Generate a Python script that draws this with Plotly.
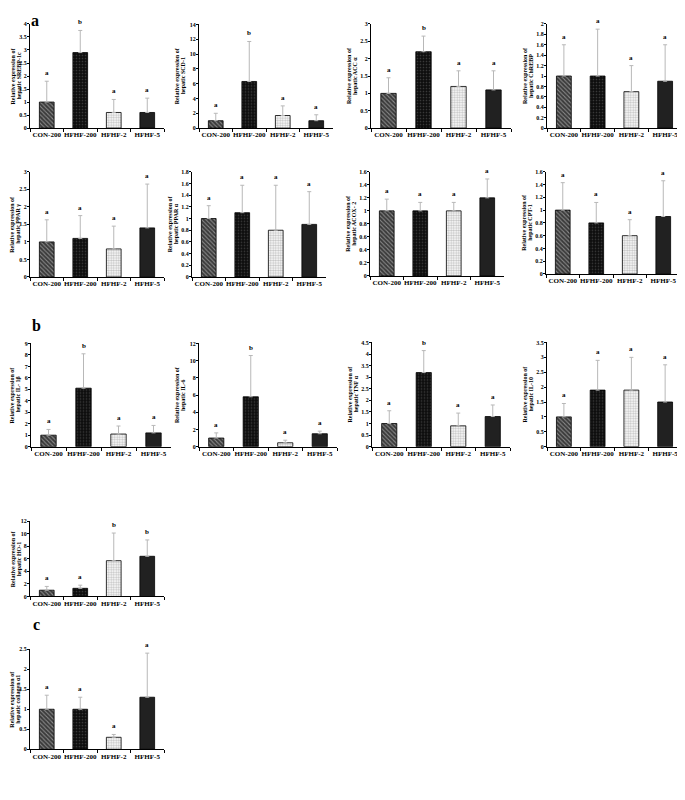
import plotly.graph_objects as go

groups = ["CON-200", "HFHF-200", "HFHF-2", "HFHF-5"]

srebp1c_mean = [1.0, 2.9, 0.6, 0.6]
srebp1c_err = [0.8, 0.85, 0.5, 0.55]
srebp1c_sig = ["a", "b", "a", "a"]

scd1_mean = [1.0, 6.3, 1.7, 1.0]
scd1_err = [1.0, 5.4, 1.3, 0.8]
scd1_sig = ["a", "b", "a", "a"]

acca_mean = [1.0, 2.2, 1.2, 1.1]
acca_err = [0.45, 0.45, 0.45, 0.55]
acca_sig = ["a", "b", "a", "a"]

chrebp_mean = [1.0, 1.0, 0.7, 0.9]
chrebp_err = [0.6, 0.9, 0.5, 0.7]
chrebp_sig = ["a", "a", "a", "a"]

pparg_mean = [1.0, 1.1, 0.8, 1.4]
pparg_err = [0.63, 0.65, 0.65, 1.25]
pparg_sig = ["a", "a", "a", "a"]

ppara_mean = [1.0, 1.1, 0.8, 0.9]
ppara_err = [0.22, 0.47, 0.77, 0.56]
ppara_sig = ["a", "a", "a", "a"]

acox2_mean = [1.0, 1.0, 1.0, 1.2]
acox2_err = [0.18, 0.13, 0.13, 0.29]
acox2_sig = ["a", "a", "a", "a"]

cpt1_mean = [1.0, 0.8, 0.6, 0.9]
cpt1_err = [0.43, 0.32, 0.25, 0.56]
cpt1_sig = ["a", "a", "a", "a"]

il1b_mean = [1.0, 5.1, 1.1, 1.2]
il1b_err = [0.5, 3.0, 0.7, 0.65]
il1b_sig = ["a", "b", "a", "a"]

il6_mean = [1.0, 5.8, 0.45, 1.5]
il6_err = [0.6, 4.8, 0.3, 0.3]
il6_sig = ["a", "b", "a", "a"]

tnfa_mean = [1.0, 3.2, 0.9, 1.3]
tnfa_err = [0.55, 0.95, 0.55, 0.5]
tnfa_sig = ["a", "b", "a", "a"]

il10_mean = [1.0, 1.9, 1.9, 1.5]
il10_err = [0.45, 1.0, 1.1, 1.25]
il10_sig = ["a", "a", "a", "a"]

ho1_mean = [1.0, 1.3, 5.7, 6.4]
ho1_err = [0.6, 0.5, 4.4, 2.6]
ho1_sig = ["a", "a", "b", "b"]

col1_mean = [1.0, 1.0, 0.3, 1.3]
col1_err = [0.35, 0.3, 0.07, 1.1]
col1_sig = ["a", "a", "a", "a"]

panels = [
    ("hepatic SREBP-1c", srebp1c_mean, srebp1c_err, srebp1c_sig, 4, 0.5),
    ("hepatic SCD-1", scd1_mean, scd1_err, scd1_sig, 14, 2),
    ("hepatic ACC α", acca_mean, acca_err, acca_sig, 3, 0.5),
    ("hepatic ChREBP", chrebp_mean, chrebp_err, chrebp_sig, 2, 0.2),
    ("hepatic PPAR γ", pparg_mean, pparg_err, pparg_sig, 3, 0.5),
    ("hepatic PPAR α", ppara_mean, ppara_err, ppara_sig, 1.8, 0.2),
    ("hepatic ACOX- 2", acox2_mean, acox2_err, acox2_sig, 1.6, 0.2),
    ("hepatic CPT-1", cpt1_mean, cpt1_err, cpt1_sig, 1.6, 0.2),
    ("hepatic IL- 1β", il1b_mean, il1b_err, il1b_sig, 9, 1),
    ("hepatic IL-6", il6_mean, il6_err, il6_sig, 12, 2),
    ("hepatic TNF α", tnfa_mean, tnfa_err, tnfa_sig, 4.5, 0.5),
    ("hepatic IL-10", il10_mean, il10_err, il10_sig, 3.5, 0.5),
    ("hepatic HO-1", ho1_mean, ho1_err, ho1_sig, 12, 2),
    ("hepatic collagen α1", col1_mean, col1_err, col1_sig, 2.5, 0.5),
]

# pixel boxes in the window: (y-axis x, right end x, top y, bottom y)
boxes = [
    (30, 164, 21, 126), (199, 333, 21.5, 126), (371, 511, 21, 126), (547, 682, 21, 126),
    (30, 164, 170, 276), (192, 326, 170, 276), (370, 504, 170, 275), (546, 680, 170, 273),
    (31, 171, 343, 447), (199, 337, 343, 447), (372, 510, 342, 447), (547, 682, 342, 447),
    (30, 164, 522, 598),
    (30, 164, 651, 752),
]

OFF = 8  # default page body margin
W, H = 685 - OFF, 800 - 2 * OFF
FONT = "Liberation Serif"


def px(x):
    return (x - OFF) / W


def py(y):
    return 1 - (y - OFF) / H


pat_shape = ["\\", ".", ".", "-"]
pat_fg = ["#d8d8d8", "#6a6a6a", "#8a8a8a", "#3c3c3c"]
pat_bg = ["#3a3a3a", "#0d0d0d", "#ffffff", "#1c1c1c"]
pat_size = [3, 3, 2.5, 2]
pat_sol = [0.35, 0.25, 0.5, 0.3]

fig = go.Figure()
annotations = []
layout_axes = {}
tfont = dict(family=FONT, size=6, color="black", weight="bold")

for i, ((title, mean, err, sig, ymax, dt), (x0, x1, yt, yb)) in enumerate(zip(panels, boxes), start=1):
    xs = "x" if i == 1 else f"x{i}"
    ys = "y" if i == 1 else f"y{i}"
    xk = "xaxis" if i == 1 else f"xaxis{i}"
    yk = "yaxis" if i == 1 else f"yaxis{i}"
    fig.add_trace(go.Bar(
        x=groups, y=mean, xaxis=xs, yaxis=ys, showlegend=False,
        error_y=dict(type="data", array=err, arrayminus=[0] * len(err), symmetric=False,
                     color="#b8b8b8", thickness=1, width=2),
        marker=dict(color="#222222", line=dict(color="black", width=0.8),
                    pattern=dict(shape=pat_shape, fgcolor=pat_fg, bgcolor=pat_bg,
                                 size=pat_size, solidity=pat_sol)),
    ))
    layout_axes[xk] = dict(
        domain=[px(x0), px(x1)], anchor=ys, showline=True, linecolor="black", linewidth=1,
        ticks="outside", tickson="boundaries", ticklen=3, tickcolor="black", showgrid=False,
        tickangle=0, tickfont=dict(family=FONT, size=7, color="black", weight="bold"),
        fixedrange=True,
    )
    layout_axes[yk] = dict(
        domain=[py(yb), py(yt)], anchor=xs, range=[0, ymax * 1.0005], dtick=dt, tick0=0,
        showline=True, linecolor="black", linewidth=1, ticks="outside", ticklen=2,
        ticklabelstandoff=-1, tickcolor="black", showgrid=False, zeroline=False,
        tickfont=dict(family=FONT, size=6, color="black", weight="bold"),
    )
    for g, m, e, s in zip(groups, mean, err, sig):
        annotations.append(dict(
            x=g, y=m + e, xref=xs, yref=ys, text=s, showarrow=False, yanchor="bottom",
            yshift=2, font=dict(family=FONT, size=7, color="black", weight="bold"),
        ))
    l1 = max(x0 - 22, 12.5)
    for k, line in enumerate(["Relative expression of", title]):
        annotations.append(dict(
            x=px(l1 + 6 * k), y=py((yt + yb) / 2), xref="paper", yref="paper",
            text=line, textangle=-90, showarrow=False, borderpad=0,
            xanchor="center", yanchor="middle", font=tfont,
        ))

label_font = dict(family=FONT, size=16, color="black", weight="bold")
annotations.append(dict(x=px(35), y=1, xref="paper", yref="paper", text="a", showarrow=False,
                        xanchor="center", yanchor="top", borderpad=0, font=label_font))
for lab, (lx, ly) in zip(["b", "c"], [(36, 325), (36, 626)]):
    annotations.append(dict(
        x=px(lx), y=py(ly), xref="paper", yref="paper", text=lab, showarrow=False,
        xanchor="center", yanchor="middle", font=label_font,
    ))

fig.update_layout(
    width=W, height=H, margin=dict(l=0, r=0, t=0, b=0),
    paper_bgcolor="white", plot_bgcolor="white", bargap=0.56,
    annotations=annotations, **layout_axes,
)

fig.write_html("out.html")
